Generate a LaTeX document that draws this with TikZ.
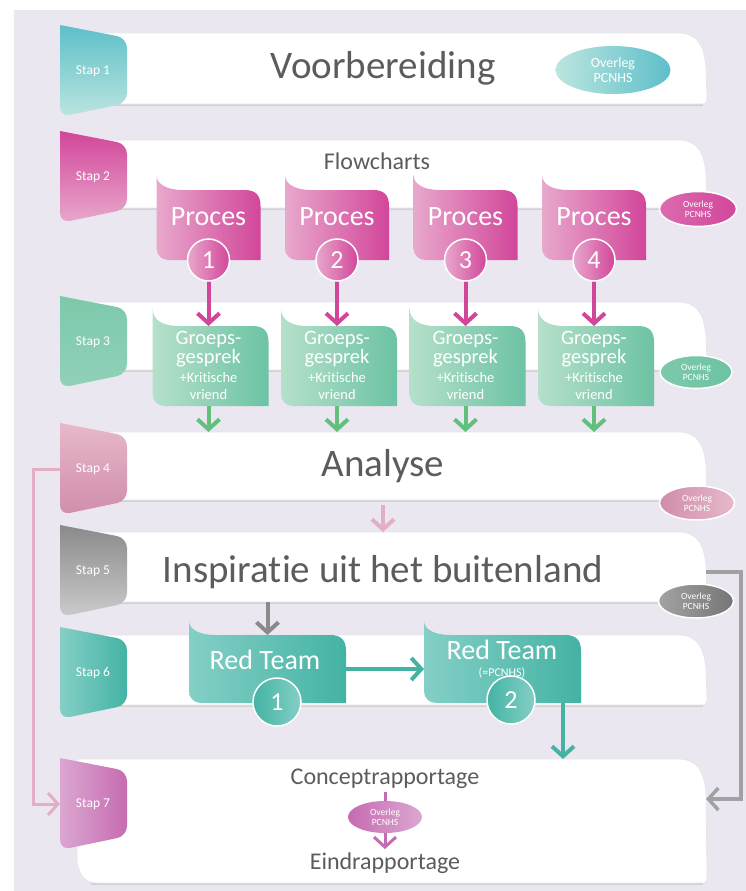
\documentclass[tikz,border=0pt]{standalone}
\usepackage{fontspec}
\setmainfont{Carlito}[Ligatures={NoCommon}]
\usetikzlibrary{positioning,shapes.geometric,arrows.meta}

\definecolor{bglav}{HTML}{EAE7F1}
\definecolor{txtgrey}{HTML}{5C5C5C}
\definecolor{tA}{HTML}{5EBFC9}
\definecolor{tB}{HTML}{BCE5E0}
\definecolor{mA}{HTML}{D2469A}
\definecolor{mB}{HTML}{E8A8CC}
\definecolor{gA}{HTML}{6CC3A3}
\definecolor{gB}{HTML}{B6E0CB}
\definecolor{gC}{HTML}{7DC9AB}
\definecolor{gArr}{HTML}{62C07F}
\definecolor{vA}{HTML}{D08DAB}
\definecolor{vB}{HTML}{E7B8CA}
\definecolor{paleP}{HTML}{E4AEC5}
\definecolor{kA}{HTML}{8A8A8A}
\definecolor{kB}{HTML}{CBCBCB}
\definecolor{rA}{HTML}{44B3A4}
\definecolor{rB}{HTML}{84CFC6}
\definecolor{pA}{HTML}{C66BB1}
\definecolor{pB}{HTML}{DBA7D1}

\begin{document}
\begin{tikzpicture}[
    x=1pt, y=-1pt,
    band h/.store in=\bandh, band h=70,
    tab h/.store in=\tabh, tab h=92,
    flap w/.store in=\flapw, flap w=104,
    flap h/.store in=\flaph, flap h=70,
    flap rise/.store in=\flaprise, flap rise=15,
    tab shade/.style={top color=tA, bottom color=tB},
    flap shade/.style={left color=mB, right color=mA},
    band/.pic={
        \draw[black!18, line width=2.5pt] (14,\bandh+1) -- (626,\bandh+1);
        \filldraw[fill=white, draw=black!10, line width=0.6pt] (0,0) -- (601,0) .. controls (620,0) and (627,12) .. (629,34) -- (630,\bandh-5) .. controls (630,\bandh-1) and (628,\bandh) .. (624,\bandh) -- (20,\bandh) .. controls (8,\bandh) and (2,\bandh-8) .. (0,\bandh-22) -- cycle;
        \coordinate (-nw) at (0,0);
        \coordinate (-sw) at (0,\bandh);
        \coordinate (-e) at (629,40);
    },
    tab/.pic={
        \shade[tab shade] (0,0) [rounded corners=10pt] -- (67,13) -- (67,\tabh-14) -- (0,\tabh) [sharp corners] -- cycle;
        \node[staptext] (-t) at (33,\tabh/2) {#1};
        \coordinate (-w) at (0,\tabh/2);
    },
    flap/.pic={
        \shade[flap shade] (0,-\flaprise) .. controls (0,-6) and (10,0) .. (26,0) -- (\flapw-16,0) .. controls (\flapw-5,0) and (\flapw,5) .. (\flapw,16) -- (\flapw,\flaph) -- (12,\flaph) .. controls (5,\flaph) and (0,\flaph-5) .. (0,\flaph-12) -- cycle;
        \coordinate (-top) at (\flapw/2,0);
        \coordinate (-bottom) at (\flapw/2,\flaph);
        \coordinate (-east) at (\flapw,\flaph/2);
        \coordinate (-west) at (0,\flaph/2);
        \coordinate (-se) at (\flapw-18,\flaph);
    },
    staptext/.style={text=white, font=\fontsize{13.5}{13.5}\selectfont},
    bigtitle/.style={text=txtgrey, font=\fontsize{39}{40}\selectfont},
    midtitle/.style={text=txtgrey, font=\fontsize{24}{26}\selectfont},
    boxtext/.style={text=white, align=center, font=\fontsize{28}{28}\selectfont},
    numc/.style={circle, draw=white, line width=1.5pt, minimum size=42pt, inner sep=0pt, text=white, font=\fontsize{26}{26}\selectfont},
    overleg/.style={ellipse, draw=white, line width=1.5pt, inner sep=0pt, align=center, text=white, minimum width=75pt, minimum height=34pt, font=\fontsize{9.5}{10}\selectfont},
    arrow/.style={line width=4pt, -{Straight Barb[length=10pt,width=22pt]}}
]
    \fill[white] (0,0) rectangle (746,891);
    \fill[bglav] (14,10) rectangle (746,891);
    \useasboundingbox (0,0) rectangle (746,891);

    % banden
    \pic[band h=71] (S1) at (77,33) {band};
    \pic[band h=68] (S2) at (77,140) {band};
    \pic[band h=68] (S3) at (77,302) {band};
    \pic[band h=68] (S4) at (77,432) {band};
    \pic[band h=70] (S5) at (77,532) {band};
    \pic[band h=70] (S6) at (77,635) {band};
    \pic[band h=124] (S7) at (77,759) {band};

    % stappen
    \pic (T1) at (60,25) {tab=Stap 1};
    \pic[tab shade/.style={top color=mA, bottom color=mB}] (T2) at (60,131) {tab=Stap 2};
    \pic[tab shade/.style={top color=gC, bottom color=gC!85!white}] (T3) at (60,296) {tab=Stap 3};
    \pic[tab shade/.style={top color=vB, bottom color=vA}] (T4) at (60,423) {tab=Stap 4};
    \pic[tab shade/.style={top color=kA, bottom color=kB}] (T5) at (60,525) {tab=Stap 5};
    \pic[tab shade/.style={left color=rB, right color=rA}] (T6) at (60,627) {tab=Stap 6};
    \pic[tab shade/.style={left color=pB, right color=pA}] (T7) at (60,758) {tab=Stap 7};

    % processen
    \pic (P1) at (156.5,190) {flap};
    \pic (P2) at (285,190) {flap};
    \pic (P3) at (413.5,190) {flap};
    \pic (P4) at (542,190) {flap};

    % groepsgesprekken
    \pic[flap w=116, flap h=80, flap rise=18, flap shade/.style={left color=gB, right color=gA}] (G1) at (152.5,326) {flap};
    \pic[flap w=116, flap h=80, flap rise=18, flap shade/.style={left color=gB, right color=gA}] (G2) at (281,326) {flap};
    \pic[flap w=116, flap h=80, flap rise=18, flap shade/.style={left color=gB, right color=gA}] (G3) at (409.5,326) {flap};
    \pic[flap w=116, flap h=80, flap rise=18, flap shade/.style={left color=gB, right color=gA}] (G4) at (538,326) {flap};

    % red teams
    \pic[flap w=157, flap h=68, flap rise=14, flap shade/.style={left color=rB, right color=rA}] (R1) at (189,635) {flap};
    \pic[flap w=157, flap h=68, flap rise=14, flap shade/.style={left color=rB, right color=rA}] (R2) at (424,635) {flap};

    % teksten
    \node[bigtitle] (voor) at (383,68) {Voorbereiding};
    \node[midtitle] (flow) at (377,161) {Flowcharts};
    \node[bigtitle] (ana) at (383,466) {Analyse};
    \node[bigtitle] (insp) at (383,572) {Inspiratie uit het buitenland};
    \node[midtitle] (concept) at (385,779) {Conceptrapportage};
    \node[midtitle] (eind) at (385,863) {Eindrapportage};

    \node[boxtext] (P1t) at (208.5,217) {Proces};
    \node[boxtext] (P2t) at (337,217) {Proces};
    \node[boxtext] (P3t) at (465.5,217) {Proces};
    \node[boxtext] (P4t) at (594,217) {Proces};

    \node[boxtext, font=\fontsize{20.5}{17}\selectfont] (G1a) at (208.5,349) {Groeps-\\gesprek};
    \node[boxtext, font=\fontsize{20.5}{17}\selectfont] (G2a) at (337,349) {Groeps-\\gesprek};
    \node[boxtext, font=\fontsize{20.5}{17}\selectfont] (G3a) at (465.5,349) {Groeps-\\gesprek};
    \node[boxtext, font=\fontsize{20.5}{17}\selectfont] (G4a) at (594,349) {Groeps-\\gesprek};
    \node[boxtext, font=\fontsize{14.5}{17}\selectfont] (G1b) at (208.5,386) {+Kritische\\vriend};
    \node[boxtext, font=\fontsize{14.5}{17}\selectfont] (G2b) at (337,386) {+Kritische\\vriend};
    \node[boxtext, font=\fontsize{14.5}{17}\selectfont] (G3b) at (465.5,386) {+Kritische\\vriend};
    \node[boxtext, font=\fontsize{14.5}{17}\selectfont] (G4b) at (594,386) {+Kritische\\vriend};

    \node[boxtext] (R1t) at (265,660) {Red Team};
    \node[boxtext] (R2t) at (502,650) {Red Team};
    \node[boxtext, font=\fontsize{12}{12}\selectfont, inner sep=1pt] (R2s) at (502,673) {(=PCNHS)};

    % pijlen
    \draw[arrow, draw=mA] (P1t |- P1-bottom) -- (P1t |- G1-top);
    \draw[arrow, draw=mA] (P2t |- P2-bottom) -- (P2t |- G2-top);
    \draw[arrow, draw=mA] (P3t |- P3-bottom) -- (P3t |- G3-top);
    \draw[arrow, draw=mA] (P4t |- P4-bottom) -- (P4t |- G4-top);
    \draw[arrow, draw=gArr] (P1t |- G1-bottom) -- (P1t |- S4-nw);
    \draw[arrow, draw=gArr] (P2t |- G2-bottom) -- (P2t |- S4-nw);
    \draw[arrow, draw=gArr] (P3t |- G3-bottom) -- (P3t |- S4-nw);
    \draw[arrow, draw=gArr] (P4t |- G4-bottom) -- (P4t |- S4-nw);
    \draw[arrow, draw=paleP, shorten <=5pt] (ana |- S4-sw) -- (ana |- S5-nw);
    \draw[arrow, draw=kA] (R1-top |- S5-sw) -- (R1-top);
    \draw[arrow, draw=rA] (R1-east) -- (R2-west);
    \draw[arrow, draw=rA] (R2-se) -- (R2-se |- S7-nw);
    \draw[arrow, draw=paleP, line width=3pt] (T4-w) -- ++(-27,0) |- (T7-w);
    \draw[arrow, draw=kA!80, line width=3.5pt] (S5-e) -- ++(35,0) |- (S7-e);
    \draw[arrow, draw=pA, line width=3pt] (concept) -- (eind);

    % nummers
    \node[numc, left color=mB, right color=mA] (P1n) at (208.5,260) {1};
    \node[numc, left color=mB, right color=mA] (P2n) at (337,260) {2};
    \node[numc, left color=mB, right color=mA] (P3n) at (465.5,260) {3};
    \node[numc, left color=mB, right color=mA] (P4n) at (594,260) {4};
    \node[numc, minimum size=48pt, left color=rA, right color=rB] (R1n) at (277,702) {1};
    \node[numc, minimum size=48pt, left color=rA, right color=rB] (R2n) at (511,700) {2};

    % overleg
    \node[overleg, draw=none, minimum width=115pt, minimum height=48pt, font=\fontsize{14}{15}\selectfont, left color=tB, right color=tA] (O1) at (613,70) {Overleg\\PCNHS};
    \node[overleg, minimum width=77pt, minimum height=35pt, left color=mA!80, right color=mA] (O2) at (698,209) {Overleg\\PCNHS};
    \node[overleg, minimum width=72pt, minimum height=33pt, left color=gC, right color=gA] (O3) at (696,372) {Overleg\\PCNHS};
    \node[overleg, left color=vA, right color=vB] (O4) at (697,503) {Overleg\\PCNHS};
    \node[overleg, left color=kB!80!black, right color=kA!85!black] (O5) at (696,601) {Overleg\\PCNHS};
    \node[overleg, draw=none, minimum width=74pt, minimum height=32pt, left color=pA, right color=pB] (O7) at (385,817) {Overleg\\PCNHS};
\end{tikzpicture}
\end{document}
